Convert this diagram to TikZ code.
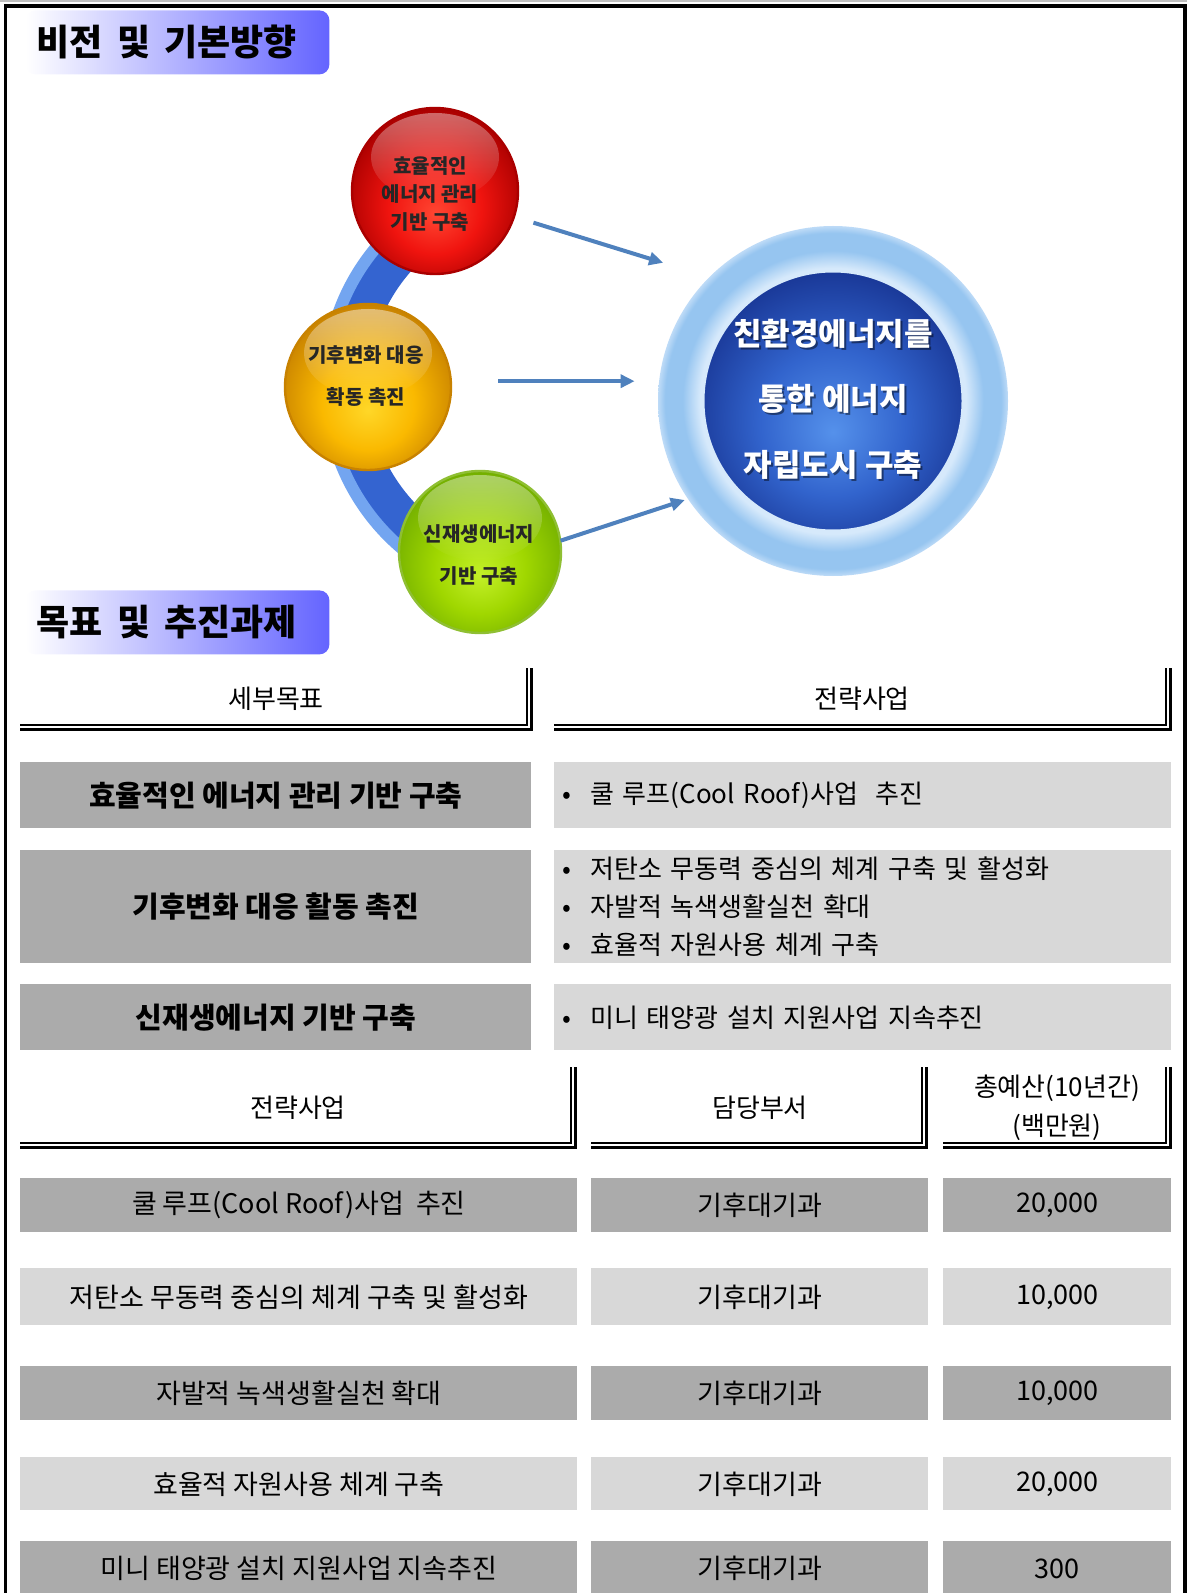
\documentclass[tikz,border=0pt]{standalone}
\usepackage{fontspec}
\setmainfont{Noto Sans CJK KR}
\usetikzlibrary{arrows.meta,fadings,shadings}

\definecolor{titleblue}{RGB}{100,100,255}
\definecolor{arrowblue}{RGB}{79,129,189}
\definecolor{bandblue}{RGB}{52,100,208}
\definecolor{bandlight}{RGB}{115,165,240}
\definecolor{cellgray}{RGB}{171,171,171}
\definecolor{celllight}{RGB}{216,216,216}
% ball colours
\definecolor{redC}{RGB}{255,70,50}
\definecolor{redM}{RGB}{240,20,15}
\definecolor{redE}{RGB}{170,0,0}
\definecolor{yelC}{RGB}{255,215,40}
\definecolor{yelM}{RGB}{250,185,0}
\definecolor{yelE}{RGB}{200,130,0}
\definecolor{grnC}{RGB}{195,240,40}
\definecolor{grnM}{RGB}{160,215,0}
\definecolor{grnE}{RGB}{115,175,0}
\definecolor{hubpale}{RGB}{214,233,251}
\definecolor{hubmid}{RGB}{150,197,240}
\definecolor{hubedge}{RGB}{190,219,247}
\definecolor{coreC}{RGB}{85,145,235}
\definecolor{coreM}{RGB}{50,100,205}
\definecolor{coreE}{RGB}{25,55,150}

\pgfdeclareradialshading{redball}{\pgfpoint{0bp}{-7bp}}{color(0bp)=(redC); color(14bp)=(redM); color(28bp)=(redE); color(50bp)=(redE)}
\pgfdeclareradialshading{yelball}{\pgfpoint{0bp}{-7bp}}{color(0bp)=(yelC); color(14bp)=(yelM); color(28bp)=(yelE); color(50bp)=(yelE)}
\pgfdeclareradialshading{grnball}{\pgfpoint{0bp}{-7bp}}{color(0bp)=(grnC); color(14bp)=(grnM); color(28bp)=(grnE); color(50bp)=(grnE)}
\pgfdeclareradialshading{hubglow}{\pgfpoint{0bp}{0bp}}{color(0bp)=(hubpale); color(19bp)=(hubpale); color(21.5bp)=(hubmid); color(24bp)=(hubmid); color(25bp)=(hubedge); color(50bp)=(hubedge)}
\pgfdeclareradialshading{hubcore}{\pgfpoint{0bp}{-6bp}}{color(0bp)=(coreC); color(14bp)=(coreM); color(28bp)=(coreE); color(50bp)=(coreE)}

\newcommand{\bul}{\makebox[14pt][l]{•}}

\begin{document}
\begin{tikzpicture}[x=0.5pt, y=-0.5pt,
    titlebox/.style={anchor=north west, minimum height=32pt, text width=141pt, inner xsep=5.5pt, align=left, rounded corners=5pt, left color=white, right color=titleblue, font=\fontsize{18}{18}\selectfont\bfseries},
    orb/.style={circle, inner sep=0pt, minimum size=#1},
    balltext/.style={align=center, text=black!85, font=\fontsize{10}{14}\selectfont\bfseries},
    flow/.style={draw=arrowblue, line width=2pt, -{Triangle[length=7pt,width=6.5pt]}},
    hubtext/.style={align=center, font=\fontsize{15.5}{32.75}\selectfont\bfseries},
    hthin/.style={line width=.6pt},
    hthick/.style={line width=1.6pt},
    head/.style={align=center, font=\fontsize{13}{19.5}\selectfont},
    goal/.style={anchor=north west, fill=cellgray, inner sep=0pt, minimum width=255.5pt, font=\fontsize{14.5}{14.5}\selectfont\bfseries},
    task/.style={anchor=north west, fill=celllight, inner xsep=4pt, inner ysep=0pt, text width=300.5pt, align=left, font=\fontsize{13}{19}\selectfont},
    rowdark/.style={anchor=north west, fill=cellgray, inner sep=0pt, minimum height=27pt, font=\fontsize{13.5}{13.5}\selectfont},
    rowlight/.style={rowdark, fill=celllight}]

\useasboundingbox (0,0) rectangle (1187,1593);

% frame
\draw[black!25, line width=1pt] (0,1) -- (1187,1);
\draw[line width=1.6pt] (5.5,1600) -- (5.5,6) -- (1185,6) -- (1185,1600);

\node[titlebox] (t1) at (25,10) {비전\hspace{.4em}및\hspace{.4em}기본방향};

% band behind the three balls
\draw[bandblue, line width=23pt] ([shift={(125:195)}]540,385) arc[start angle=125, end angle=235, radius=195];
\draw[bandlight, line width=6pt] ([shift={(128:214)}]540,385) arc[start angle=128, end angle=232, radius=214];

% balls
\shade[shading=redball, draw=redE, line width=1.2pt] (435,191) circle[radius=83];
\shade[shading=yelball, draw=yelE, line width=1.2pt] (368,387) circle[radius=83];
\shade[shading=grnball, draw=grnE!80, line width=1.2pt] (480,552) circle[radius=81];
\fill[white, opacity=.4, path fading=south] ([yshift=17pt]435,191) ellipse[x radius=64, y radius=44];
\fill[white, opacity=.45, path fading=south] ([yshift=17pt]368,387) ellipse[x radius=64, y radius=44];
\fill[white, opacity=.4, path fading=south] ([yshift=17pt]480,552) ellipse[x radius=62, y radius=43];

\node[orb=83pt] (red) at (435,191) {};
\node[orb=83pt] (yellow) at (368,387) {};
\node[orb=81pt] (green) at (480,552) {};
\node[balltext] (redtxt) at (430,194) {효율적인\\에너지 관리\\기반 구축};
\node[balltext] (yellowtxt) at (366,376) {기후변화 대응\\[7pt]확동 촉진};
\node[balltext] (greentxt) at (479,555) {신재생에너지\\[7pt]기반 구축};

% target circle
\node[orb=175pt, shading=hubglow] (hub) at (833,401) {};
\node[orb=130pt, shading=hubcore, draw=hubpale, line width=1.5pt] (core) at (833,401) {};
\node[hubtext, text=black, opacity=.45] (goalshade) at (835,401) {친환경에너지를\\통한 에너지\\자립도시 구축};
\node[hubtext, text=white] (goaltxt) at (833,399) {친환경에너지를\\통한 에너지\\자립도시 구축};

\draw[flow, shorten <=10pt, shorten >=24pt] (red.-18) -- (hub.135);
\draw[flow, shorten <=23.5pt, shorten >=11.5pt] (yellow.4) -- (yellow.4 -| hub.west);
\draw[flow, shorten >=1.5pt] (green.8) -- (hub.214);

\node[titlebox] (t2) at (25,590) {목표\hspace{.4em}및\hspace{.4em}추진과제};

% goals and strategies
\draw[hthin] (20,725) -| (527,668);
\draw[hthick] (20,729.5) -| (531.5,668);
\draw[hthin] (554,725) -| (1166,668);
\draw[hthick] (554,729.5) -| (1170.5,668);
\node[head] (h1) at (276,699) {세부목표};
\node[head] (h2) at (862,699) {전략사업};

\node[goal, minimum height=33pt] (g1) at (20,762) {효율적인 에너지 관리 기반 구축};
\node[goal, minimum height=56.5pt] (g2) at (20,850) {기후변화 대응 활동 촉진};
\node[goal, minimum height=33pt] (g3) at (20,984) {신재생에너지 기반 구축};
\node[task, minimum height=33pt] (s1) at (554,762) {\bul 쿨 루프(Cool Roof)사업\ \ 추진};
\node[task, minimum height=56.5pt] (s2) at (554,850) {\bul 저탄소 무동력 중심의 체계 구축 및 활성화\\\bul 자발적 녹색생활실천 확대\\\bul 효율적 자원사용 체계 구축};
\node[task, minimum height=33pt] (s3) at (554,984) {\bul 미니 태양광 설치 지원사업 지속추진};

% projects, departments, budgets
\draw[hthin] (20,1143) -| (571,1067);
\draw[hthick] (20,1147.5) -| (575.5,1067);
\draw[hthin] (591,1143) -| (922,1067);
\draw[hthick] (591,1147.5) -| (926.5,1067);
\draw[hthin] (943,1143) -| (1166,1067);
\draw[hthick] (943,1147.5) -| (1170.5,1067);
\node[head] (k1) at (298,1108) {전략사업};
\node[head] (k2) at (760,1108) {담당부서};
\node[head] (k3) at (1057,1108) {총예산(10년간)\\(백만원)};

\node[rowdark, minimum width=278.5pt] (p1) at (20,1178) {쿨 루프(Cool Roof)사업\ \ 추진};
\node[rowdark, minimum width=168.5pt] (d1) at (591,1178) {기후대기과};
\node[rowdark, minimum width=114pt] (c1) at (943,1178) {20,000};
\node[rowlight, minimum width=278.5pt, minimum height=28.5pt] (p2) at (20,1268) {저탄소 무동력 중심의 체계 구축 및 활성화};
\node[rowlight, minimum width=168.5pt, minimum height=28.5pt] (d2) at (591,1268) {기후대기과};
\node[rowlight, minimum width=114pt, minimum height=28.5pt] (c2) at (943,1268) {10,000};
\node[rowdark, minimum width=278.5pt] (p3) at (20,1366) {자발적 녹색생활실천 확대};
\node[rowdark, minimum width=168.5pt] (d3) at (591,1366) {기후대기과};
\node[rowdark, minimum width=114pt] (c3) at (943,1366) {10,000};
\node[rowlight, minimum width=278.5pt, minimum height=26.5pt] (p4) at (20,1457) {효율적 자원사용 체계 구축};
\node[rowlight, minimum width=168.5pt, minimum height=26.5pt] (d4) at (591,1457) {기후대기과};
\node[rowlight, minimum width=114pt, minimum height=26.5pt] (c4) at (943,1457) {20,000};
\node[rowdark, minimum width=278.5pt] (p5) at (20,1541) {미니 태양광 설치 지원사업 지속추진};
\node[rowdark, minimum width=168.5pt] (d5) at (591,1541) {기후대기과};
\node[rowdark, minimum width=114pt] (c5) at (943,1541) {300};

\end{tikzpicture}
\end{document}
